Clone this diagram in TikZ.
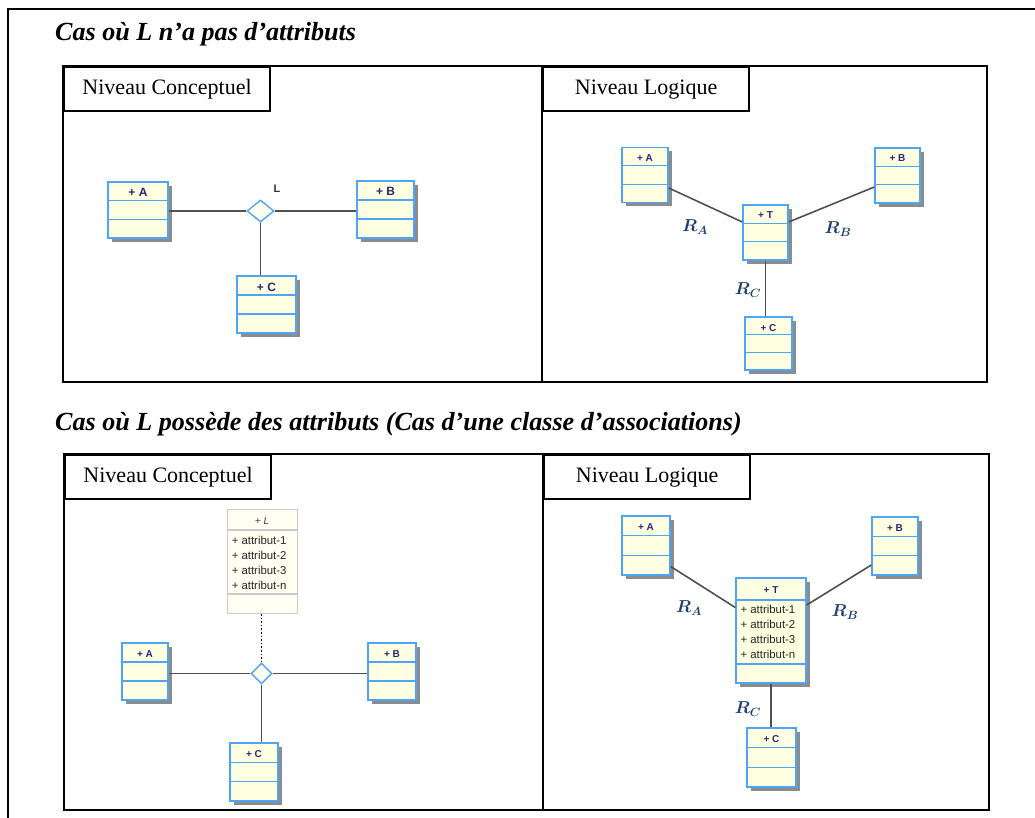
\documentclass[tikz,border=0pt]{standalone}
\usepackage{fontspec}
\usepackage{amsmath}
\setmainfont{Liberation Serif}
\newfontfamily\umlfont{Liberation Sans}
\usetikzlibrary{shapes.geometric,shadows}
\definecolor{umlblue}{HTML}{4FA5F5}
\definecolor{umlfill}{HTML}{FFFFE1}
\definecolor{umlpale}{HTML}{FFFFF2}
\definecolor{umlgray}{HTML}{CCCCCC}
\definecolor{umlhead}{HTML}{26267A}
\definecolor{linkgray}{HTML}{505050}
\definecolor{rblue}{HTML}{203F6E}
\begin{document}
\begin{tikzpicture}[x=1pt, y=-1pt,
    panel/.style={line width=2.6pt},
    tab/.style={draw, line width=2.2pt, anchor=north west, minimum width=206, minimum height=44, inner sep=0pt, font=\fontsize{22}{22}\selectfont},
    title/.style={anchor=base west, inner sep=0pt, font=\bfseries\itshape\fontsize{26.1}{27}\selectfont},
    rows/.style n args={3}{path picture={
        \draw[#3, line width=1.2pt]
          ([yshift=-#1]path picture bounding box.north west) -- ([yshift=-#1]path picture bounding box.north east)
          ([yshift=-#2]path picture bounding box.north west) -- ([yshift=-#2]path picture bounding box.north east);}},
    umlbox/.style={draw=umlblue, fill=umlfill, line width=1.4pt, inner sep=0pt,
        drop shadow={shadow xshift=4pt, shadow yshift=-4pt, fill=black!45, opacity=1},
        text=umlhead, font=\umlfont\bfseries\fontsize{10}{10}\selectfont},
    cls/.style n args={3}{umlbox, minimum width=#1, text height=#3, text depth=#2-#3, rows={#2/3}{2*#2/3}{umlblue}},
    big/.style={font=\umlfont\bfseries\fontsize{12}{12}\selectfont},
    attr/.style={anchor=north west, align=left, inner sep=0pt, text=black!85, font=\umlfont\fontsize{11.4}{15}\selectfont},
    dia/.style={diamond, draw=umlblue, fill=umlpale, line width=1.4pt, inner sep=0pt},
    link/.style={draw=linkgray, line width=1.6pt},
    rlab/.style={text=rblue, font=\fontsize{17}{17}\selectfont}]
\useasboundingbox (0,0) rectangle (1035,818);
\clip (0,0) rectangle (1035,818);
\draw[line width=2.6pt] (8,9) rectangle (1060,840);
\node[title] (case1) at (55,41) {Cas où L n’a pas d’attributs};
\node[title] (case2) at (55,430) {Cas où L possède des attributs (Cas d’une classe d’associations)};
\foreach \i/\yt/\yb/\l/\m/\r in {1/66/382/63/542/987, 2/454/810/64/543/989}{
  \draw[panel] (\l,\yt) rectangle (\r,\yb) (\m,\yt) -- (\m,\yb);
  \node[tab] (conc\i) at (\l,\yt) {Niveau Conceptuel};
  \node[tab] (logi\i) at (\m,\yt) {Niveau Logique};
}

\node[cls={60}{56}{15}, big] (tcA) at (138,210) {+ A};
\node[cls={57}{57}{15}, big] (tcB) at (385.5,209.5) {+ B};
\node[cls={59}{57}{15}, big] (tcC) at (266.5,304.5) {+ C};
\node[dia, minimum width=27, minimum height=22] (tcL) at (260.5,211) {};
\node[font=\umlfont\bfseries\fontsize{11}{11}\selectfont, text=black!80] (tcLname) at (277,189) {L};
\draw[link] (tcL.west) -- (tcL.west -| tcA.east);
\draw[link] (tcL.east) -- (tcL.east -| tcB.west);
\draw[link] (tcL.south) -- (tcL.south |- tcC.north);

\node[cls={46}{55}{14}] (tlA) at (645,175) {+ A};
\node[cls={45}{55}{14}] (tlT) at (765.5,232.5) {+ T};
\node[cls={45}{55}{14}] (tlB) at (897.5,175.5) {+ B};
\node[cls={47}{53}{14}] (tlC) at (768.5,343.5) {+ C};
\draw[link] ([yshift=-13]tlA.east) -- ([yshift=10.5]tlT.west);
\draw[link] ([yshift=10.5]tlT.east) -- ([yshift=-11.5]tlB.west);
\draw[link] (tlT.south) -- (tlT.south |- tlC.north);
\node[rlab] (tlRA) at (695,227) {$\boldsymbol{R_A}$};
\node[rlab] (tlRB) at (838,229) {$\boldsymbol{R_B}$};
\node[rlab] (tlRC) at (748,290) {$\boldsymbol{R_C}$};

\node[draw=umlgray, fill=umlpale, line width=0.9pt, minimum width=70, text height=15.5, text depth=88.5, inner sep=0pt,
    rows={21}{85}{umlgray}, text=black!75, font=\umlfont\itshape\fontsize{10}{10}\selectfont] (bcL) at (262,561) {+ L};
\node[attr] (bcLattr) at ([xshift=5, yshift=-27]bcL.north west) {+ attribut-1\\+ attribut-2\\+ attribut-3\\+ attribut-n};
\node[dia, minimum width=21, minimum height=21] (bcD) at (261.5,673.5) {};
\node[cls={46}{57}{14}] (bcA) at (145,671.5) {+ A};
\node[cls={48}{57}{14}] (bcB) at (392,671.5) {+ B};
\node[cls={48}{58}{14}] (bcC) at (254,772) {+ C};
\draw[link] (bcD.west) -- (bcD.west -| bcA.east);
\draw[link] (bcD.east) -- (bcD.east -| bcB.west);
\draw[link] (bcD.south) -- (bcD.south |- bcC.north);
\draw[dotted, line width=1.6pt] (bcD.north) -- (bcD.north |- bcL.south);

\node[cls={48}{59}{14}] (blA) at (646,545.5) {+ A};
\node[umlbox, minimum width=70, text height=15, text depth=90, rows={22}{86}{umlblue}] (blT) at (771,630.5) {+ T};
\node[attr] (blTattr) at ([xshift=5, yshift=-28]blT.north west) {+ attribut-1\\+ attribut-2\\+ attribut-3\\+ attribut-n};
\node[cls={46}{58}{14}] (blB) at (895,546) {+ B};
\node[cls={49}{59}{14}] (blC) at (771.5,757.5) {+ C};
\draw[link] ([yshift=-21]blA.east) -- ([yshift=23]blT.west);
\draw[link] ([yshift=25.5]blT.east) -- ([yshift=-19]blB.west);
\draw[link] (blT.south) -- (blT.south |- blC.north);
\node[rlab] (blRA) at (689,608) {$\boldsymbol{R_A}$};
\node[rlab] (blRB) at (845,612) {$\boldsymbol{R_B}$};
\node[rlab] (blRC) at (748,709) {$\boldsymbol{R_C}$};
\end{tikzpicture}
\end{document}
